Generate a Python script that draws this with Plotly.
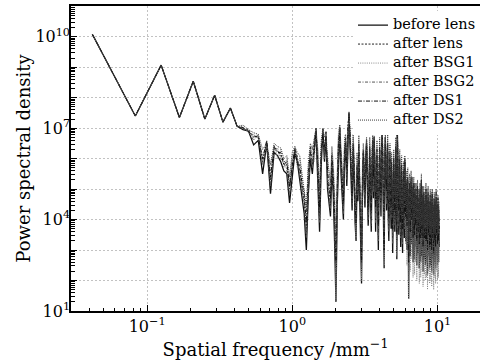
import plotly.graph_objects as go

# Spatial frequency samples (mm^-1)
freq = [
    0.042, 0.083, 0.125, 0.167, 0.208, 0.25, 0.292, 0.333, 0.375, 0.417, 0.458, 0.5, 0.542, 0.583, 0.625, 0.667, 0.708, 0.75, 0.792, 0.833, 0.875, 0.917, 0.958, 1.0,
    1.042, 1.083, 1.125, 1.167, 1.208, 1.25, 1.292, 1.333, 1.375, 1.417, 1.458, 1.5, 1.542, 1.583, 1.625, 1.667, 1.708, 1.75, 1.792, 1.833, 1.875, 1.917, 1.958, 2.0,
    2.042, 2.083, 2.125, 2.167, 2.208, 2.25, 2.292, 2.333, 2.375, 2.417, 2.458, 2.5, 2.542, 2.583, 2.625, 2.667, 2.708, 2.75, 2.792, 2.833, 2.875, 2.917, 2.958, 3.0,
    3.042, 3.083, 3.125, 3.167, 3.208, 3.25, 3.292, 3.333, 3.375, 3.417, 3.458, 3.5, 3.542, 3.583, 3.625, 3.667, 3.708, 3.75, 3.792, 3.833, 3.875, 3.917, 3.958, 4.0,
    4.042, 4.083, 4.125, 4.167, 4.208, 4.25, 4.292, 4.333, 4.375, 4.417, 4.458, 4.5, 4.542, 4.583, 4.625, 4.667, 4.708, 4.75, 4.792, 4.833, 4.875, 4.917, 4.958, 5.0,
    5.042, 5.083, 5.125, 5.167, 5.208, 5.25, 5.292, 5.333, 5.375, 5.417, 5.458, 5.5, 5.542, 5.583, 5.625, 5.667, 5.708, 5.75, 5.792, 5.833, 5.875, 5.917, 5.958, 6.0,
    6.042, 6.083, 6.125, 6.167, 6.208, 6.25, 6.292, 6.333, 6.375, 6.417, 6.458, 6.5, 6.542, 6.583, 6.625, 6.667, 6.708, 6.75, 6.792, 6.833, 6.875, 6.917, 6.958, 7.0,
    7.042, 7.083, 7.125, 7.167, 7.208, 7.25, 7.292, 7.333, 7.375, 7.417, 7.458, 7.5, 7.542, 7.583, 7.625, 7.667, 7.708, 7.75, 7.792, 7.833, 7.875, 7.917, 7.958, 8.0,
    8.042, 8.083, 8.125, 8.167, 8.208, 8.25, 8.292, 8.333, 8.375, 8.417, 8.458, 8.5, 8.542, 8.583, 8.625, 8.667, 8.708, 8.75, 8.792, 8.833, 8.875, 8.917, 8.958, 9.0,
    9.042, 9.083, 9.125, 9.167, 9.208, 9.25, 9.292, 9.333, 9.375, 9.417, 9.458, 9.5, 9.542, 9.583, 9.625, 9.667, 9.708, 9.75, 9.792, 9.833, 9.875, 9.917, 9.958, 10.0,
    10.042, 10.083, 10.125, 10.167, 10.208, 10.25, 10.292,
]

# log10 of power spectral density
before_lens_log = [
    10.08, 7.40, 9.07, 7.35, 8.54, 7.30, 8.08, 7.20, 7.66, 7.06,
    6.95, 6.90, 6.45, 6.60, 5.50, 6.50, 4.85, 6.20, 6.10, 5.90, 5.60, 5.50, 4.55, 5.40,
    6.2, 5.9, 5.3, 4.6, 4.2, 3.0, 4.9, 6.0, 5.5, 6.3, 6.9, 5.2, 3.6, 5.8, 6.9, 5.9, 6.7, 5.0, 4.6, 4.1, 5.7, 4.8, 3.2, 1.3,
    4.5, 6.2, 7.0, 5.5, 4.8, 4.0, 5.9, 6.4, 5.1, 6.8, 7.5, 6.4, 5.0, 4.3, 6.1, 5.3, 3.9, 3.3, 5.2, 4.6, 6.0, 4.2, 3.5, 1.9,
    4.8, 6.0, 5.2, 4.4, 5.7, 6.5, 5.0, 3.8, 4.6, 5.9, 4.9, 3.6, 5.5, 6.2, 4.7, 6.7, 5.3, 3.6, 4.9, 5.8, 4.4, 3.0, 5.0, 6.0,
    5.0, 4.1, 6.3, 6.8, 5.4, 3.4, 2.4, 5.2, 6.7, 5.6, 4.3, 5.1, 6.2, 4.0, 3.3, 5.0, 5.8, 4.6, 3.7, 5.5, 4.2, 2.9, 4.8, 5.6,
    4.5, 3.6, 5.3, 6.0, 4.1, 2.7, 7.0, 5.6, 4.4, 3.5, 5.1, 5.6, 4.0, 3.1, 4.7, 5.4, 3.8, 2.9, 4.5, 5.2, 4.3, 3.4, 5.9, 4.6,
    3.3, 4.9, 4.1, 3.0, 4.6, 5.0, 3.7, 1.4, 4.2, 4.8, 3.6, 2.8, 4.4, 5.1, 3.9, 3.2, 4.5, 3.6, 2.6, 4.3, 4.9, 3.5, 2.7, 4.6,
    4.0, 3.1, 4.4, 3.3, 2.5, 4.2, 4.8, 3.6, 2.9, 4.1, 3.4, 2.4, 3.9, 4.6, 3.2, 2.6, 4.0, 5.2, 3.7, 2.8, 4.3, 3.5, 2.3, 3.8,
    4.5, 3.3, 2.7, 4.1, 3.6, 2.5, 3.9, 4.7, 3.4, 2.6, 4.2, 3.1, 2.2, 3.8, 4.4, 3.2, 2.8, 4.0, 3.5, 2.4, 3.7, 4.3, 3.0, 2.5,
    4.1, 3.4, 2.3, 3.6, 4.5, 3.2, 2.7, 3.9, 3.3, 2.2, 3.8, 4.2, 3.0, 2.6, 4.0, 3.5, 2.4, 3.6, 4.4, 3.1, 2.8, 3.9, 3.3, 2.5,
    3.7, 4.2, 3.0, 2.6, 3.8, 3.4, 3.1,
]

after_lens_log = [
    10.08, 7.40, 9.07, 7.35, 8.54, 7.30, 8.08, 7.20, 7.66, 7.06,
    7.00, 6.95, 6.70, 6.75, 5.90, 6.55, 5.30, 6.35, 6.25, 6.10, 5.95, 5.80, 5.00, 5.70,
    6.35, 6.00, 5.60, 5.00, 4.60, 3.60, 5.30, 6.40, 5.80, 6.60, 7.00, 5.60, 4.00, 6.10, 7.00, 6.20, 6.90, 5.30, 5.00, 4.40, 6.00, 5.20, 3.80, 2.20,
    5.00, 6.50, 7.00, 5.80, 5.20, 4.30, 6.20, 6.70, 5.50, 7.00, 7.50, 6.70, 5.40, 4.70, 6.40, 5.70, 4.30, 3.70, 5.60, 5.00, 6.30, 4.60, 3.90, 2.80,
    5.20, 6.30, 5.60, 4.80, 6.00, 6.60, 5.40, 4.20, 5.00, 6.20, 5.30, 4.00, 5.80, 6.50, 5.10, 6.70, 5.70, 4.10, 5.30, 6.10, 4.80, 3.50, 5.40, 6.30,
    5.40, 4.60, 6.50, 6.90, 5.80, 3.90, 3.20, 5.60, 6.70, 5.90, 4.70, 5.50, 6.40, 4.50, 3.80, 5.40, 6.10, 5.00, 4.20, 5.80, 4.60, 3.40, 5.20, 5.90,
    4.90, 4.00, 5.60, 6.30, 4.60, 3.30, 7.00, 5.90, 4.80, 4.00, 5.40, 5.90, 4.40, 3.60, 5.10, 5.70, 4.20, 3.40, 4.90, 5.50, 4.70, 3.90, 6.00, 5.00,
    3.80, 5.20, 4.50, 3.50, 5.00, 5.30, 4.10, 2.30, 4.60, 5.10, 4.00, 3.30, 4.80, 5.30, 4.30, 3.70, 4.90, 4.00, 3.10, 4.70, 5.20, 3.90, 3.20, 4.90,
    4.40, 3.60, 4.80, 3.70, 3.00, 4.60, 5.10, 4.00, 3.40, 4.50, 3.80, 2.90, 4.30, 4.90, 3.60, 3.10, 4.40, 5.30, 4.10, 3.30, 4.70, 3.90, 2.80, 4.20,
    4.80, 3.70, 3.20, 4.50, 4.00, 3.00, 4.30, 4.90, 3.80, 3.10, 4.60, 3.50, 2.70, 4.20, 4.70, 3.60, 3.30, 4.40, 3.90, 2.90, 4.10, 4.60, 3.40, 3.00,
    4.50, 3.80, 2.80, 4.00, 4.80, 3.60, 3.20, 4.30, 3.70, 2.70, 4.20, 4.50, 3.40, 3.10, 4.40, 3.90, 2.90, 4.00, 4.70, 3.50, 3.30, 4.30, 3.70, 3.00,
    4.10, 4.50, 3.40, 3.10, 4.20, 3.80, 3.50,
]

after_bsg1_log = [
    10.08, 7.40, 9.07, 7.35, 8.54, 7.30, 8.08, 7.20, 7.66, 7.06,
    7.05, 6.85, 6.80, 6.65, 6.10, 6.40, 5.60, 6.45, 6.00, 6.30, 5.70, 6.00, 5.20, 6.10,
    6.40, 5.70, 6.00, 5.30, 4.90, 4.20, 5.80, 6.10, 6.40, 5.90, 6.80, 6.20, 4.80, 6.50, 6.70, 6.60, 6.50, 5.90, 5.40, 5.10, 6.20, 5.60, 4.60, 1.40,
    5.40, 6.80, 6.60, 6.20, 5.60, 4.90, 6.50, 6.20, 5.90, 6.90, 7.30, 6.90, 5.80, 5.10, 6.70, 6.00, 4.80, 3.40, 6.00, 5.40, 6.60, 5.00, 4.40, 2.00,
    5.60, 6.10, 5.90, 5.20, 6.30, 6.20, 5.80, 4.60, 5.50, 6.50, 5.60, 4.50, 6.20, 6.70, 5.60, 6.40, 6.00, 4.60, 5.70, 6.40, 5.20, 4.00, 5.80, 6.50,
    5.80, 5.10, 6.70, 6.50, 6.20, 4.40, 2.50, 6.00, 6.40, 6.20, 5.20, 5.90, 6.60, 5.00, 4.30, 5.80, 6.30, 5.40, 4.70, 6.00, 5.00, 3.90, 5.60, 6.10,
    5.30, 4.50, 5.90, 6.50, 5.10, 2.80, 6.80, 6.20, 5.30, 4.50, 5.70, 6.10, 4.90, 4.10, 5.40, 5.90, 4.70, 3.90, 5.30, 5.70, 5.10, 4.40, 5.80, 5.40,
    3.20, 4.80, 3.90, 2.50, 4.40, 4.90, 3.40, 1.40, 4.00, 4.60, 3.20, 2.30, 4.20, 4.90, 3.60, 2.70, 4.30, 3.30, 2.10, 4.10, 4.70, 3.20, 2.20, 4.40,
    3.70, 2.60, 4.20, 3.00, 2.00, 4.00, 4.60, 3.30, 2.40, 3.90, 3.10, 1.90, 3.70, 4.40, 2.90, 2.10, 3.80, 4.90, 3.40, 2.30, 4.10, 3.20, 1.80, 3.60,
    4.30, 3.00, 2.20, 3.90, 3.30, 2.00, 3.70, 4.50, 3.10, 2.10, 4.00, 2.80, 1.70, 3.60, 4.20, 2.90, 2.30, 3.80, 3.20, 1.90, 3.50, 4.10, 2.70, 2.00,
    3.90, 3.10, 1.80, 3.40, 4.30, 2.90, 2.20, 3.70, 3.00, 1.70, 3.60, 4.00, 2.70, 2.10, 3.80, 3.20, 1.90, 3.40, 4.20, 2.80, 2.30, 3.70, 3.00, 2.00,
    3.50, 4.00, 2.70, 2.10, 3.60, 3.10, 2.60,
]

after_bsg2_log = [
    10.08, 7.40, 9.07, 7.35, 8.54, 7.30, 8.08, 7.20, 7.66, 7.06,
    6.98, 6.92, 6.60, 6.80, 5.80, 6.45, 5.10, 6.30, 6.35, 6.00, 5.85, 5.65, 4.80, 5.90,
    6.30, 6.10, 5.50, 4.90, 4.50, 3.40, 5.10, 6.30, 5.70, 6.50, 7.00, 5.40, 3.90, 6.00, 7.00, 6.00, 6.80, 5.20, 4.80, 4.30, 5.90, 5.00, 3.60, 1.90,
    4.80, 6.40, 7.10, 5.70, 5.00, 4.20, 6.10, 6.60, 5.30, 6.90, 7.40, 6.60, 5.20, 4.50, 6.30, 5.50, 4.10, 3.50, 5.40, 4.80, 6.20, 4.40, 3.70, 2.40,
    5.00, 6.20, 5.40, 4.60, 5.90, 6.60, 5.20, 4.00, 4.80, 6.00, 5.10, 3.80, 5.70, 6.40, 4.90, 6.80, 5.50, 3.90, 5.10, 6.00, 4.60, 3.30, 5.20, 6.20,
    5.20, 4.40, 6.40, 7.00, 5.60, 3.70, 2.90, 5.40, 6.80, 5.70, 4.50, 5.30, 6.30, 4.30, 3.60, 5.20, 6.00, 4.80, 4.00, 5.70, 4.40, 3.20, 5.00, 5.80,
    4.70, 3.80, 5.50, 6.20, 4.40, 3.00, 7.05, 5.80, 4.60, 3.80, 5.30, 5.80, 4.20, 3.40, 4.90, 5.60, 4.00, 3.20, 4.70, 5.40, 4.50, 3.70, 6.00, 4.80,
    3.60, 5.10, 4.30, 3.30, 4.80, 5.20, 3.90, 2.00, 4.40, 5.00, 3.80, 3.00, 4.60, 5.20, 4.10, 3.40, 4.70, 3.80, 2.90, 4.50, 5.00, 3.70, 3.00, 4.70,
    4.20, 3.40, 4.60, 3.50, 2.80, 4.40, 5.00, 3.80, 3.10, 4.30, 3.60, 2.70, 4.10, 4.80, 3.40, 2.90, 4.20, 5.30, 3.90, 3.00, 4.50, 3.70, 2.60, 4.00,
    4.70, 3.50, 3.00, 4.30, 3.80, 2.80, 4.10, 4.80, 3.60, 2.90, 4.40, 3.30, 2.50, 4.00, 4.60, 3.40, 3.00, 4.20, 3.70, 2.70, 3.90, 4.50, 3.20, 2.80,
    4.30, 3.60, 2.60, 3.80, 4.60, 3.40, 2.90, 4.10, 3.50, 2.50, 4.00, 4.40, 3.20, 2.80, 4.20, 3.70, 2.70, 3.80, 4.60, 3.30, 3.00, 4.10, 3.50, 2.80,
    3.90, 4.40, 3.20, 2.90, 4.00, 3.60, 3.30,
]

after_ds1_log = [
    10.08, 7.40, 9.07, 7.35, 8.54, 7.30, 8.08, 7.20, 7.66, 7.06,
    7.02, 6.88, 6.75, 6.70, 6.00, 6.60, 5.40, 6.40, 6.20, 6.20, 5.80, 5.90, 5.10, 5.80,
    6.30, 5.80, 5.80, 5.20, 4.80, 3.90, 5.60, 6.20, 6.10, 6.20, 6.90, 5.90, 4.40, 6.30, 6.80, 6.40, 6.70, 5.60, 5.20, 4.70, 6.10, 5.40, 4.20, 2.60,
    5.20, 6.60, 6.80, 6.00, 5.40, 4.60, 6.40, 6.50, 5.70, 7.10, 7.40, 6.80, 5.60, 4.90, 6.50, 5.80, 4.50, 3.90, 5.80, 5.20, 6.50, 4.80, 4.10, 2.60,
    5.40, 6.20, 5.80, 5.00, 6.10, 6.40, 5.60, 4.40, 5.30, 6.40, 5.40, 4.30, 6.00, 6.60, 5.40, 6.60, 5.90, 4.40, 5.50, 6.30, 5.00, 3.80, 5.60, 6.40,
    5.60, 4.90, 6.60, 6.70, 6.00, 4.20, 3.00, 5.80, 6.50, 6.00, 5.00, 5.70, 6.50, 4.80, 4.10, 5.60, 6.20, 5.20, 4.50, 5.90, 4.80, 3.70, 5.40, 6.00,
    5.10, 4.30, 5.80, 6.40, 4.90, 3.50, 6.90, 6.10, 5.10, 4.30, 5.60, 6.00, 4.70, 3.90, 5.30, 5.80, 4.50, 3.70, 5.10, 5.60, 4.90, 4.20, 5.90, 5.20,
    4.10, 5.30, 4.70, 3.80, 5.20, 5.40, 4.40, 2.60, 4.80, 5.20, 4.30, 3.60, 5.00, 5.40, 4.50, 4.00, 5.10, 4.20, 3.40, 4.90, 5.20, 4.20, 3.50, 5.00,
    4.60, 3.80, 5.00, 4.00, 3.30, 4.80, 5.10, 4.20, 3.60, 4.70, 4.00, 3.20, 4.50, 5.00, 3.90, 3.40, 4.60, 5.30, 4.30, 3.50, 4.80, 4.10, 3.10, 4.40,
    4.90, 3.90, 3.40, 4.60, 4.20, 3.30, 4.50, 5.00, 4.00, 3.30, 4.80, 3.70, 3.00, 4.40, 4.90, 3.80, 3.50, 4.60, 4.10, 3.10, 4.30, 4.80, 3.60, 3.20,
    4.70, 4.00, 3.00, 4.20, 4.90, 3.80, 3.40, 4.50, 3.90, 2.90, 4.40, 4.70, 3.60, 3.30, 4.60, 4.10, 3.10, 4.20, 4.90, 3.70, 3.50, 4.50, 3.90, 3.20,
    4.30, 4.70, 3.60, 3.30, 4.40, 4.00, 3.70,
]

after_ds2_log = [
    10.08, 7.40, 9.07, 7.35, 8.54, 7.30, 8.08, 7.20, 7.66, 7.06,
    7.10, 6.95, 6.85, 6.80, 6.30, 6.50, 5.80, 6.50, 6.40, 6.35, 6.00, 6.10, 5.40, 6.20,
    6.40, 6.20, 6.10, 5.50, 5.10, 4.40, 5.90, 6.50, 6.30, 6.70, 7.00, 6.30, 5.00, 6.60, 7.00, 6.70, 6.90, 6.00, 5.60, 5.20, 6.40, 5.80, 4.80, 3.20,
    5.60, 6.90, 7.10, 6.40, 5.80, 5.00, 6.70, 6.80, 6.10, 7.20, 7.55, 7.00, 6.00, 5.30, 6.80, 6.20, 5.00, 4.40, 6.20, 5.60, 6.80, 5.20, 4.60, 3.10,
    5.80, 6.50, 6.10, 5.40, 6.40, 6.70, 6.00, 4.90, 5.70, 6.70, 5.80, 4.80, 6.30, 6.80, 5.80, 6.70, 6.20, 4.90, 5.90, 6.60, 5.40, 4.30, 6.00, 6.70,
    6.00, 5.30, 6.80, 6.90, 6.30, 4.70, 3.60, 6.20, 6.70, 6.30, 5.40, 6.10, 6.80, 5.30, 4.60, 6.00, 6.50, 5.60, 5.00, 6.20, 5.20, 4.20, 5.80, 6.30,
    5.50, 4.80, 6.10, 6.70, 5.30, 4.00, 7.05, 6.40, 5.50, 4.80, 5.90, 6.30, 5.10, 4.40, 5.60, 6.10, 4.90, 4.20, 5.50, 5.90, 5.30, 4.60, 6.10, 5.50,
    4.50, 5.60, 5.00, 4.20, 5.50, 5.70, 4.80, 3.20, 5.20, 5.50, 4.70, 4.00, 5.30, 5.60, 4.90, 4.40, 5.40, 4.60, 3.80, 5.20, 5.40, 4.60, 3.90, 5.20,
    4.90, 4.10, 5.20, 4.40, 3.70, 5.10, 5.30, 4.50, 3.90, 5.00, 4.30, 3.60, 4.80, 5.20, 4.30, 3.80, 4.90, 5.50, 4.60, 3.90, 5.10, 4.40, 3.50, 4.70,
    5.10, 4.20, 3.70, 4.90, 4.50, 3.60, 4.80, 5.20, 4.30, 3.70, 5.00, 4.00, 3.40, 4.70, 5.10, 4.10, 3.80, 4.80, 4.40, 3.50, 4.60, 5.00, 3.90, 3.50,
    4.90, 4.30, 3.40, 4.50, 5.00, 4.10, 3.70, 4.70, 4.20, 3.30, 4.60, 4.90, 3.90, 3.60, 4.80, 4.30, 3.50, 4.40, 5.00, 4.00, 3.80, 4.60, 4.10, 3.50,
    4.50, 4.80, 3.90, 3.60, 4.60, 4.20, 3.90,
]

series_names = ["before lens", "after lens", "after BSG1", "after BSG2", "after DS1", "after DS2"]
series_logs = [before_lens_log, after_lens_log, after_bsg1_log, after_bsg2_log, after_ds1_log, after_ds2_log]

for name, s in zip(series_names, series_logs):
    assert len(s) == len(freq), (name, len(s), len(freq))

styles = [
    dict(color="#111111", width=1.3, dash="solid"),
    dict(color="#222222", width=1.0, dash="2px,1.5px"),
    dict(color="#8a8a8a", width=1.0, dash="1px,1.2px"),
    dict(color="#555555", width=1.0, dash="3px,1.5px,1px,1.5px"),
    dict(color="#111111", width=1.0, dash="4px,1.5px,1px,1.5px"),
    dict(color="#3a3a3a", width=1.0, dash="1px,1px"),
]

# axis tick values / labels
x_major = [0.1, 1, 10]
x_major_text = ["10<sup>−1</sup>", "10<sup>0</sup>", "10<sup>1</sup>"]
x_minor = [m * d for d in (0.01, 0.1, 1, 10) for m in range(2, 10) if 0.035 < m * d < 19]
y_decades = [10.0 ** e for e in range(1, 11)]           # ticks + gridlines
y_label_vals = [1e1, 1e4, 1e7, 1e10]                    # labelled decades
y_label_text = ["10<sup>1</sup>", "10<sup>4</sup>", "10<sup>7</sup>", "10<sup>10</sup>"]
y_minor = [m * 10.0 ** e for e in range(1, 11) for m in range(2, 10)]

legend_text_size = 14.5
y_range = [1, 11.01]

fig = go.Figure()
for name, s, st in zip(series_names, series_logs, styles):
    fig.add_trace(go.Scatter(
        x=freq, y=[10 ** v for v in s], mode="lines",
        name='<span style="font-size:%spx">%s</span>' % (legend_text_size, name),
        line=st,
    ))
# invisible anchor trace for the labelled overlay axis
fig.add_trace(go.Scatter(
    x=[freq[0]], y=[10 ** before_lens_log[0]], yaxis="y2", mode="markers",
    marker=dict(opacity=0, size=1), showlegend=False, hoverinfo="skip",
))

font_family = "DejaVu Serif"
fig.update_layout(
    width=481, height=362,
    margin=dict(l=71, r=0, t=6, b=51),
    paper_bgcolor="white", plot_bgcolor="white",
    font=dict(family=font_family, color="#000000", size=16),
    showlegend=True,
    legend=dict(
        x=0.69, y=0.985, xanchor="left", yanchor="top",
        bgcolor="white", borderwidth=0,
        font=dict(family=font_family, size=11.2, color="#000000"),
        itemwidth=30, tracegroupgap=0,
    ),
    yaxis2=dict(
        type="log", range=y_range, overlaying="y", side="left", anchor="x",
        tickmode="array", tickvals=y_label_vals, ticktext=y_label_text,
        ticks="", showgrid=False, showline=False, zeroline=False,
        tickfont=dict(size=16),
        title=dict(text="Power spectral density", font=dict(size=18), standoff=0),
    ),
)
fig.update_xaxes(
    type="log", range=[-1.524, 1.293],
    tickmode="array", tickvals=x_major, ticktext=x_major_text,
    ticks="inside", ticklen=6, tickwidth=1, tickcolor="black",
    showline=True, linecolor="black", linewidth=1.6, mirror=True,
    showgrid=True, gridcolor="#c2c2c2", griddash="2px,2px", gridwidth=1,
    tickfont=dict(size=16),
    minor=dict(tickmode="array", tickvals=x_minor, ticks="inside", ticklen=3,
               tickcolor="black", tickwidth=1, showgrid=False),
    title=dict(text="Spatial frequency /mm<sup>−1</sup>", font=dict(size=18), standoff=4),
    zeroline=False,
)
fig.update_yaxes(
    selector=dict(overlaying=None),
    type="log", range=y_range,
    tickmode="array", tickvals=y_decades, showticklabels=False,
    ticks="inside", ticklen=6, tickwidth=1, tickcolor="black",
    showline=True, linecolor="black", linewidth=1.6, mirror=False,
    showgrid=True, gridcolor="#c2c2c2", griddash="2px,2px", gridwidth=1,
    minor=dict(tickmode="array", tickvals=y_minor, ticks="inside", ticklen=4,
               tickcolor="black", tickwidth=1, showgrid=False),
    zeroline=False,
)

fig.write_html("out.html")
